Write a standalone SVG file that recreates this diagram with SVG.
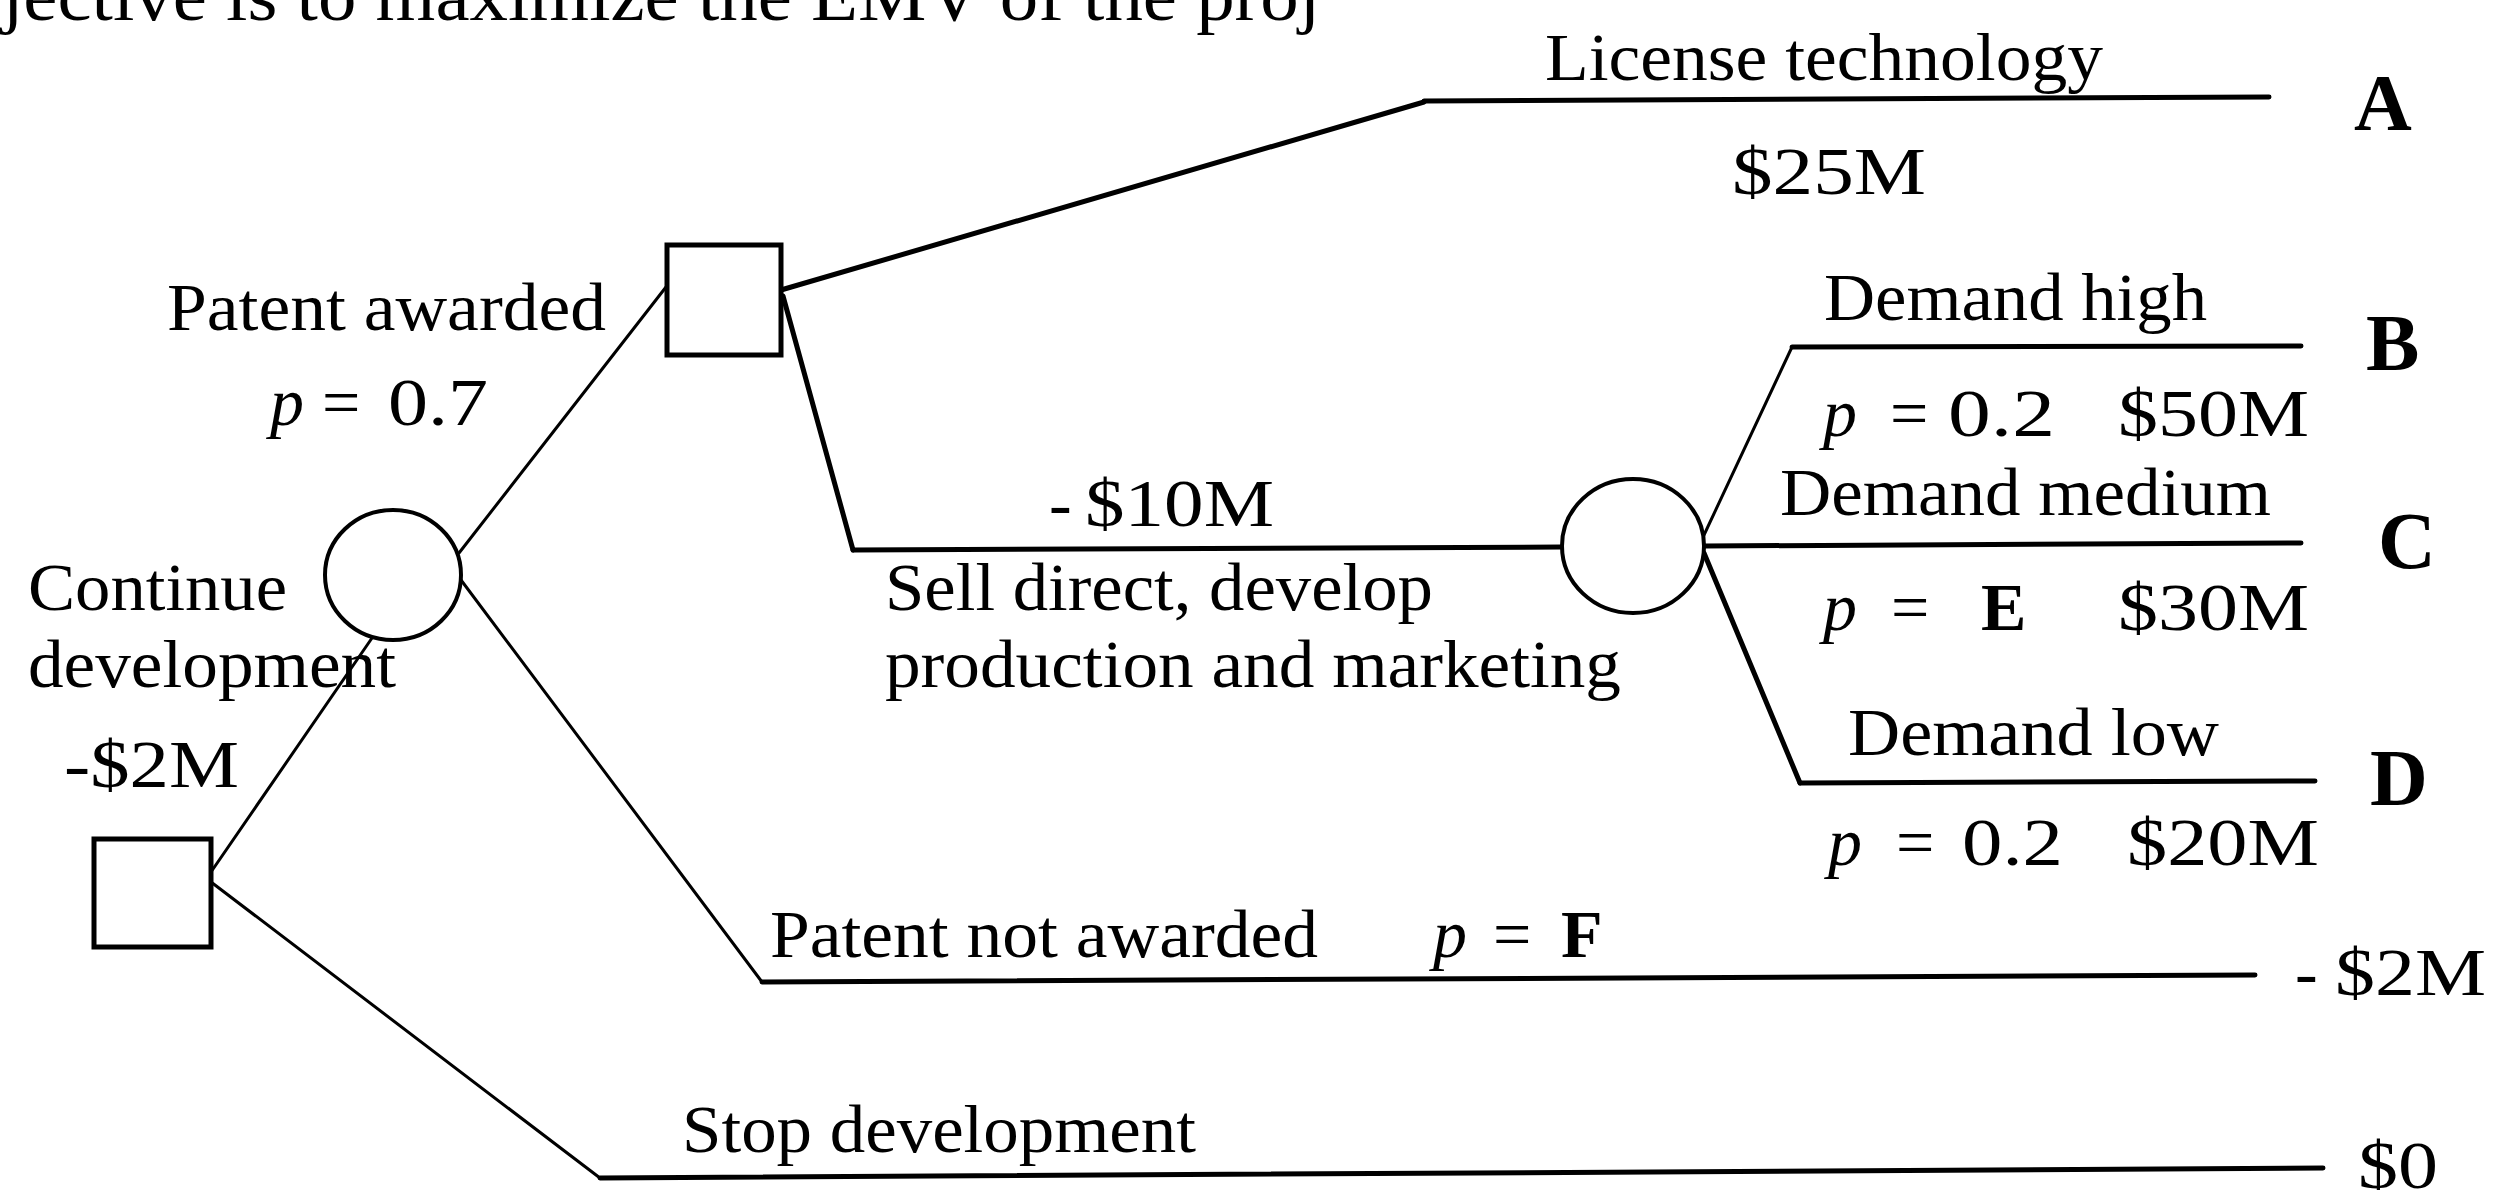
<svg xmlns="http://www.w3.org/2000/svg" width="2499" height="1190" viewBox="0 0 2499 1190">
<style>
text{font-family:"Liberation Serif","Times New Roman",serif;font-size:68px;fill:#000}
.big{font-size:72px}
.b{font-weight:bold;font-size:80px}
.i{font-style:italic}
.node{fill:#fff;stroke:#000;stroke-width:5}
.thin{stroke:#000;stroke-width:3;fill:none;stroke-linecap:round}
.thick{stroke:#000;stroke-width:5;fill:none;stroke-linecap:round}
</style>
<rect width="2499" height="1190" fill="#fff"/>
<text class="big" x="2" y="20" textLength="1318" lengthAdjust="spacingAndGlyphs">jective is to maximize the EMV of the proj</text>
<g id="connectors">
<line class="thin" x1="211" y1="872" x2="372" y2="638"/>
<line class="thin" x1="211" y1="882" x2="600" y2="1178"/>
<line class="thick" x1="600" y1="1178" x2="2323" y2="1168"/>
<line class="thin" x1="459" y1="553" x2="666" y2="287"/>
<line class="thin" x1="461" y1="580" x2="762" y2="982"/>
<line class="thick" x1="762" y1="982" x2="2255" y2="975"/>
<line class="thick" x1="781" y1="290" x2="1424" y2="102"/>
<line class="thick" x1="1424" y1="101" x2="2269" y2="97"/>
<line class="thick" x1="783" y1="296" x2="853" y2="550"/>
<line class="thick" x1="853" y1="550" x2="1561" y2="547"/>
<line class="thin" x1="1704" y1="535" x2="1792" y2="347"/>
<line class="thick" x1="1792" y1="347" x2="2301" y2="346"/>
<line class="thick" x1="1705" y1="546" x2="2301" y2="543"/>
<line class="thick" x1="1704" y1="553" x2="1800" y2="783"/>
<line class="thick" x1="1800" y1="783" x2="2315" y2="781"/>
</g>
<g id="decision1"><rect class="node" x="94" y="839" width="117" height="108"/></g>
<g id="chance1"><ellipse class="node" style="stroke-width:4" cx="393" cy="575" rx="68" ry="65"/></g>
<g id="decision2"><rect class="node" x="667" y="245" width="114" height="110"/></g>
<g id="chance2"><ellipse class="node" style="stroke-width:4" cx="1633" cy="546" rx="71" ry="67"/></g>
<g id="labels">
<text x="1545" y="80" textLength="558" lengthAdjust="spacingAndGlyphs">License technology</text>
<text x="1732" y="194" textLength="194" lengthAdjust="spacingAndGlyphs">$25M</text>
<text x="167" y="330" textLength="439" lengthAdjust="spacingAndGlyphs">Patent awarded</text>
<text y="425"><tspan class="i" x="270">p</tspan><tspan x="322">=</tspan><tspan x="388" textLength="100" lengthAdjust="spacingAndGlyphs">0.7</tspan></text>
<text x="28" y="610" textLength="259" lengthAdjust="spacingAndGlyphs">Continue</text>
<text x="28" y="687" textLength="368" lengthAdjust="spacingAndGlyphs">development</text>
<text x="64" y="787" textLength="175" lengthAdjust="spacingAndGlyphs">-$2M</text>
<text y="526"><tspan x="1049">-</tspan><tspan x="1085" textLength="189" lengthAdjust="spacingAndGlyphs">$10M</tspan></text>
<text x="885" y="610" textLength="548" lengthAdjust="spacingAndGlyphs">Sell direct, develop</text>
<text x="885" y="687" textLength="736" lengthAdjust="spacingAndGlyphs">production and marketing</text>
<text x="1824" y="320" textLength="383" lengthAdjust="spacingAndGlyphs">Demand high</text>
<text y="436"><tspan class="i" x="1823">p</tspan><tspan x="1890">=</tspan><tspan x="1948" textLength="107" lengthAdjust="spacingAndGlyphs">0.2</tspan><tspan x="2118" textLength="191" lengthAdjust="spacingAndGlyphs">$50M</tspan></text>
<text x="1780" y="515" textLength="491" lengthAdjust="spacingAndGlyphs">Demand medium</text>
<text y="630"><tspan class="i" x="1823">p</tspan><tspan x="1891">=</tspan><tspan x="1981" font-weight="bold">E</tspan><tspan x="2118" textLength="191" lengthAdjust="spacingAndGlyphs">$30M</tspan></text>
<text x="1848" y="755" textLength="371" lengthAdjust="spacingAndGlyphs">Demand low</text>
<text y="865"><tspan class="i" x="1828">p</tspan><tspan x="1896">=</tspan><tspan x="1962" textLength="101" lengthAdjust="spacingAndGlyphs">0.2</tspan><tspan x="2127" textLength="192" lengthAdjust="spacingAndGlyphs">$20M</tspan></text>
<text x="770" y="957" textLength="548" lengthAdjust="spacingAndGlyphs">Patent not awarded</text>
<text y="957"><tspan class="i" x="1433">p</tspan><tspan x="1493">=</tspan><tspan x="1561" font-weight="bold">F</tspan></text>
<text y="995"><tspan x="2295">-</tspan><tspan x="2335" textLength="151" lengthAdjust="spacingAndGlyphs">$2M</tspan></text>
<text x="682" y="1152" textLength="514" lengthAdjust="spacingAndGlyphs">Stop development</text>
<text x="2358" y="1188" textLength="80" lengthAdjust="spacingAndGlyphs">$0</text>
<text class="b" x="2354" y="130">A</text>
<text class="b" x="2366" y="370">B</text>
<text class="b" x="2378" y="568">C</text>
<text class="b" x="2370" y="805">D</text>
</g>
</svg>
